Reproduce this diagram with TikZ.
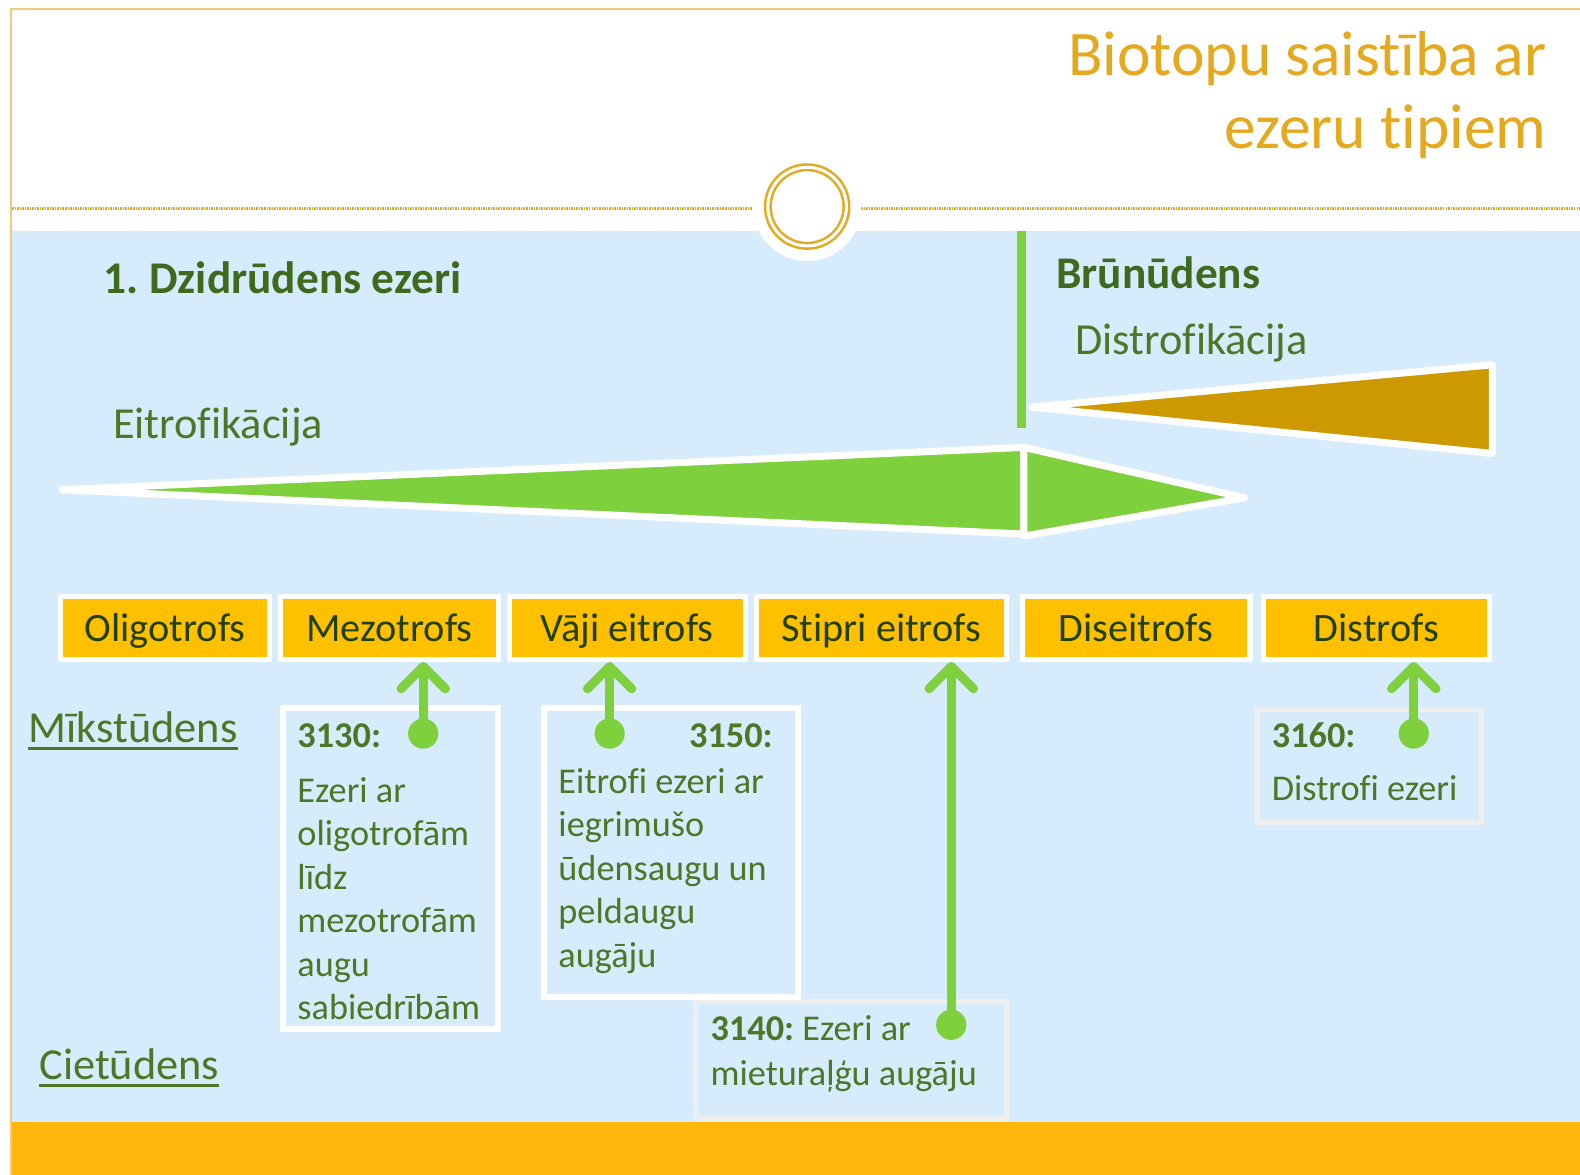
\documentclass[tikz,border=0pt]{standalone}
\usepackage{fontspec}
\setmainfont{Carlito}[Ligatures=NoCommon]
\usetikzlibrary{arrows.meta}
\frenchspacing

\definecolor{linegold}{RGB}{228,169,31}
\definecolor{lakeblue}{RGB}{214,235,252}
\definecolor{leafgreen}{RGB}{126,208,60}
\definecolor{peatbrown}{RGB}{204,153,0}
\definecolor{boxorange}{RGB}{255,192,0}
\definecolor{baraorange}{RGB}{255,183,11}
\definecolor{textgreen}{RGB}{75,120,38}
\definecolor{headgreen}{RGB}{62,106,30}
\definecolor{boxtext}{RGB}{34,64,2}
\definecolor{framegray}{RGB}{238,238,238}

\tikzset{
  typebox/.style={draw=white, line width=5pt, fill=boxorange, text=boxtext,
    minimum width=#1, minimum height=63pt, inner sep=0pt,
    text height=31pt, text depth=4pt,
    font=\fontsize{40}{48}\selectfont},
  notebox/.style={draw=white, line width=6pt, fill=lakeblue, inner sep=0pt},
  graybox/.style={draw=framegray, line width=5pt, fill=lakeblue, inner sep=0pt},
  notetext/.style={anchor=base west, inner sep=0pt, text=textgreen,
    font=\fontsize{36}{43}\selectfont},
  proctext/.style={anchor=base west, inner sep=0pt, text=textgreen,
    font=\fontsize{44}{52}\selectfont},
  headtext/.style={anchor=base west, inner sep=0pt, text=headgreen,
    font=\fontsize{45}{52}\selectfont\bfseries},
  titletext/.style={anchor=base east, inner sep=0pt, text=linegold,
    font=\fontsize{63}{72}\selectfont},
  dot/.style={circle, fill=leafgreen, minimum size=30pt, inner sep=0pt},
  uparrow/.style={draw=leafgreen, line width=9pt,
    -{Straight Barb[length=22pt, width=44pt, round]}},
  wedge/.style={draw=white, line width=7pt, line join=round}
}

\begin{document}
\begin{tikzpicture}[x=1pt, y=-1pt]
	\useasboundingbox (0,0) rectangle (1568,1166);
	
	% frame and background
	\fill[white] (0,0) rectangle (1568,1166);
	\fill[lakeblue] (12,229) rectangle (1568,1113);
	\fill[baraorange] (12,1113) rectangle (1568,1166);
	\draw[linegold!60, line width=2pt] (11,1166) -- (11,9) -- (1568,9);
	\draw[linegold, line width=3pt, dash pattern=on 1.5pt off 1pt] (12,207) -- (1568,207);
	\fill[white] (801,205) circle (54);
	\draw[linegold, line width=2.5pt, double=white, double distance=3pt] (801,205) circle (39);
	
	\node[titletext] (title1) at (1535,75) {Biotopu saistība ar};
	\node[titletext] (title2) at (1535,147) {ezeru tipiem};
	
	% headings
	\node[headtext] (dzidr) at (103,291) {1. Dzidrūdens ezeri};
	\node[headtext] (brun) at (1048,286) {Brūnūdens};
	\node[proctext] (eitr) at (112,435) {Eitrofikācija};
	\node[proctext] (distrf) at (1067,352) {Distrofikācija};
	
	% wedges
	\draw[leafgreen, line width=9pt] (1014,229) -- (1014,425);
	\filldraw[wedge, fill=leafgreen] (62,486) -- (1016,444) -- (1016,530) -- cycle;
	\filldraw[wedge, fill=leafgreen] (1016,444) -- (1235,494) -- (1016,532) -- cycle;
	\filldraw[wedge, fill=peatbrown] (1024,404) -- (1481,362) -- (1481,450) -- cycle;
	
	% lake types
	\node[typebox=207pt] (oligo) at (164,623) {Oligotrofs};
	\node[typebox=216pt] (mezo) at (386.5,623) {Mezotrofs};
	\node[typebox=234pt] (vaji) at (622.5,623) {Vāji eitrofs};
	\node[typebox=248pt] (stipri) at (874.5,623) {Stipri eitrofs};
	\node[typebox=226pt] (diseitr) at (1127.5,623) {Diseitrofs};
	\node[typebox=225pt] (distr) at (1366,623) {Distrofs};
	
	% water hardness
	\node[proctext] (mik) at (28,737) {Mīkstūdens};
	\node[proctext] (ciet) at (39,1071) {Cietūdens};
	\draw[textgreen, line width=2.5pt] ([yshift=-6pt]mik.base west) -- ([yshift=-6pt]mik.base east);
	\draw[textgreen, line width=2.5pt] ([yshift=-6pt]ciet.base west) -- ([yshift=-6pt]ciet.base east);
	
	% habitat boxes
	\node[graybox, minimum width=308pt, minimum height=117pt] (b3140) at (844.5,1052) {};
	\node[notebox, minimum width=213pt, minimum height=318pt] (b3130) at (387.5,862) {};
	\node[notebox, minimum width=252pt, minimum height=286pt] (b3150) at (666,846) {};
	\node[graybox, minimum width=223pt, minimum height=112pt] (b3160) at (1359,760.5) {};
	
	\node[notetext] (h3130) at (295,742) {\textbf{3130:}};
	\foreach \t [count=\i] in {Ezeri ar, oligotrofām, līdz, mezotrofām, augu, sabiedrībām}
		\node[notetext] (t3130-\i) at (295,796+43.2*\i-43.2) {\t};
	
	\node[notetext, anchor=base east] (h3150) at (767,742) {\textbf{3150:}};
	\foreach \t [count=\i] in {Eitrofi ezeri ar, iegrimušo, ūdensaugu un, peldaugu, augāju}
		\node[notetext] (t3150-\i) at (554,787+43.2*\i-43.2) {\t};
	
	\node[notetext] (t3140-1) at (705,1033) {\textbf{3140:} Ezeri ar};
	\node[notetext] (t3140-2) at (705,1077) {mieturaļģu augāju};
	
	\node[notetext] (h3160) at (1262,742) {\textbf{3160:}};
	\node[notetext] (t3160) at (1262,794) {Distrofi ezeri};
	
	% arrows
	\node[dot] (d3130) at (420,728) {};
	\node[dot] (d3150) at (605,728) {};
	\node[dot] (d3140) at (944,1017) {};
	\node[dot] (d3160) at (1403,728) {};
	\draw[uparrow] (d3130.center) -- (d3130 |- mezo.south);
	\draw[uparrow] (d3150.center) -- (d3150 |- vaji.south);
	\draw[uparrow] (d3140.center) -- (d3140 |- stipri.south);
	\draw[uparrow] (d3160.center) -- (d3160 |- distr.south);
	
\end{tikzpicture}
\end{document}
